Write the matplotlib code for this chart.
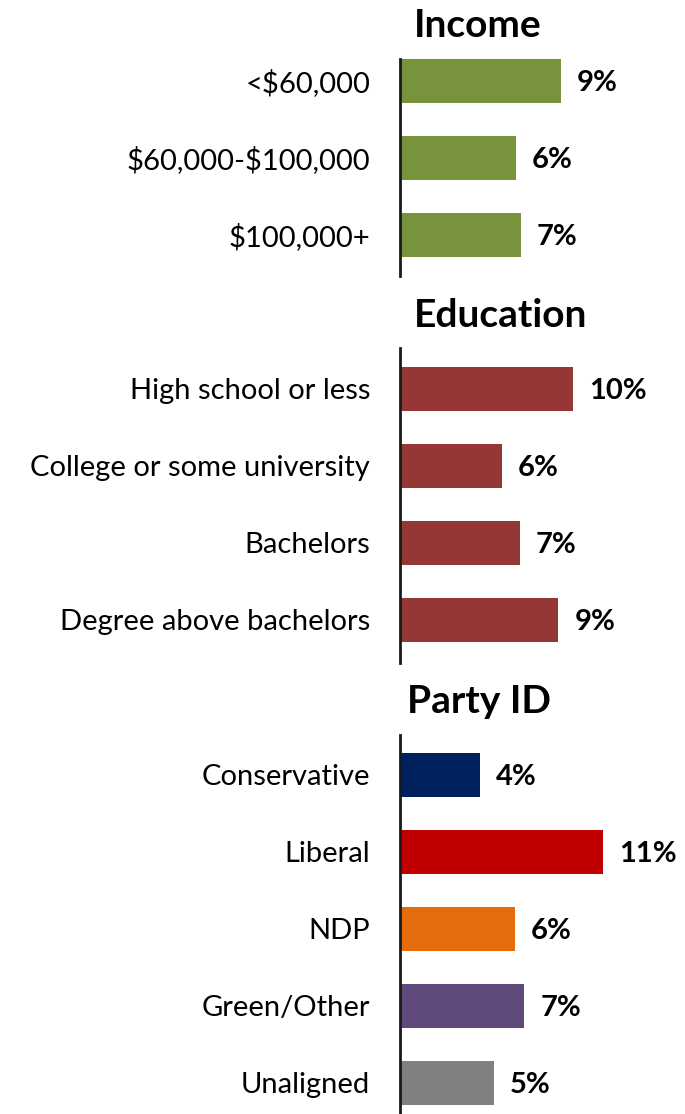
import matplotlib
matplotlib.use("Agg")
import matplotlib.pyplot as plt

plt.rcParams["font.family"] = ["Lato", "DejaVu Sans"]
plt.rcParams["text.parse_math"] = False

income_labels = ["<$60,000", "$60,000-$100,000", "$100,000+"]
income_values = [8.95, 6.45, 6.7]
income_colors = ["#77933C"] * 3

edu_labels = ["High school or less", "College or some university",
              "Bachelors", "Degree above bachelors"]
edu_values = [9.6, 5.65, 6.65, 8.8]
edu_colors = ["#953735"] * 4

party_labels = ["Conservative", "Liberal", "NDP", "Green/Other", "Unaligned"]
party_values = [4.45, 11.3, 6.4, 6.9, 5.2]
party_colors = ["#002060", "#C00000", "#E46C0A", "#604A7B", "#808080"]

W, H = 685, 1114
fig = plt.figure(figsize=(W / 100, H / 100), dpi=100)

PX_PER_UNIT = 18.0   # pixels per percentage point
ROW = 77.0           # pixels between bars
X0 = 400


def panel(title, title_xy, labels, values, colors, first_center, top_px, bottom_px):
    # axes placed in pixel coordinates (top-down), one per group
    left = X0 / W
    width = (W - X0) / W
    bottom = 1 - bottom_px / H
    height = (bottom_px - top_px) / H
    ax = fig.add_axes([left, bottom, width, height])
    pos = list(range(len(values)))
    ax.barh(pos, values, height=44 / ROW, color=colors)
    ax.set_xlim(0, (W - X0) / PX_PER_UNIT)
    ax.set_ylim((bottom_px - first_center) / ROW, -(first_center - top_px) / ROW)
    for s in ["top", "right", "bottom"]:
        ax.spines[s].set_visible(False)
    ax.spines["left"].set_linewidth(2)
    ax.spines["left"].set_color("#1a1a1a")
    ax.set_xticks([])
    ax.set_yticks(pos)
    ax.set_yticklabels(labels, fontsize=21)
    ax.tick_params(axis="y", length=0, pad=21.5)
    for p, v in zip(pos, values):
        ax.annotate(f"{round(v)}%", (v, p), xytext=(11.5, -1.5),
                    textcoords="offset points", va="center", ha="left",
                    fontsize=21, fontweight="bold")
    fig.text(title_xy[0] / W, 1 - title_xy[1] / H, title, ha="center",
             va="baseline", fontsize=28, fontweight="bold")


panel("Income", (478, 37), income_labels, income_values, income_colors,
      81, 59, 276)
panel("Education", (501, 327), edu_labels, edu_values, edu_colors,
      388.5, 348, 663)
panel("Party ID", (479, 713), party_labels, party_values, party_colors,
      774.5, 735, 1114)

fig.savefig("out.png", dpi=100)
